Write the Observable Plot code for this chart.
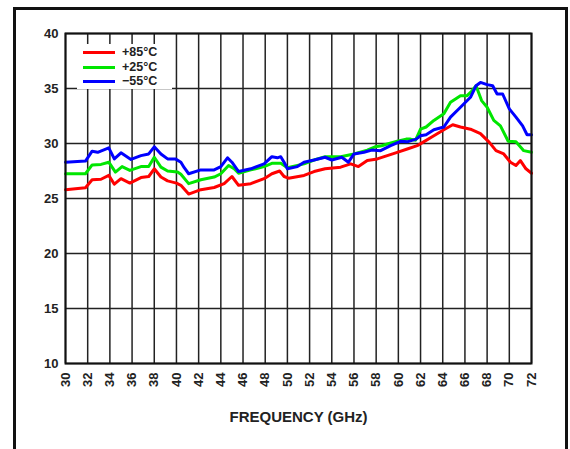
<!DOCTYPE html>
<html><head><meta charset="utf-8">
<script src="https://cdn.jsdelivr.net/npm/d3@7"></script>
<script src="https://cdn.jsdelivr.net/npm/@observablehq/plot@0.6"></script>
<style>
html,body{margin:0;padding:0;background:#fff;}
body{width:570px;height:449px;overflow:hidden;position:relative;font-family:"Liberation Sans",Arial,sans-serif;}
#frame{position:absolute;left:13px;top:7px;width:549px;height:470px;border:3px solid #111;border-bottom:none;box-sizing:content-box;}
#chart{position:absolute;left:0;top:0;}
#legend{position:absolute;left:77px;top:44px;width:95px;height:45px;background:#fff;}
.item{position:absolute;left:0;height:14px;}
.sw{position:absolute;left:6px;width:32px;height:3px;top:6px;}
.lab{position:absolute;left:45px;top:0px;font-weight:bold;font-size:12.5px;line-height:14px;height:14px;color:#222;white-space:nowrap;}
</style></head>
<body>
<div id="frame"></div>
<div id="chart"></div>
<div id="legend"></div>
<script>
// Tick values
const xTicks = [30,32,34,36,38,40,42,44,46,48,50,52,54,56,58,60,62,64,66,68,70,72];
const yTicks = [10,15,20,25,30,35,40];

// Series names and colours
const seriesNames = ["+85°C", "+25°C", "\u221255°C"];
const seriesColors = ["#ff0000", "#00e600", "#0000ff"];

// +85°C
const freq85 = [30.0,31.8,32.4,33.2,33.9,34.4,35.0,35.8,36.8,37.5,38.0,38.6,39.2,40.0,40.4,41.1,42.2,43.4,44.3,45.0,45.6,46.7,47.9,48.6,49.3,49.7,50.1,51.5,52.4,53.4,54.8,55.7,56.4,57.2,58.1,59.0,59.9,60.8,61.7,62.2,63.2,64.1,64.9,65.6,66.5,67.4,68.2,68.8,69.5,70.1,70.6,71.0,71.5,72.0];
const gain85 = [25.8,25.97,26.7,26.75,27.1,26.3,26.8,26.4,26.9,27.0,27.7,26.95,26.6,26.4,26.2,25.4,25.8,26.0,26.35,27.0,26.2,26.35,26.8,27.25,27.5,27.0,26.85,27.1,27.45,27.7,27.85,28.15,27.9,28.45,28.6,28.9,29.2,29.5,29.8,30.1,30.7,31.25,31.7,31.5,31.3,30.9,30.1,29.35,29.05,28.3,28.0,28.45,27.7,27.3];

// +25°C
const freq25 = [30.0,31.8,32.4,33.2,33.9,34.5,35.1,35.8,36.8,37.5,38.0,38.6,39.2,40.1,40.4,41.1,42.2,43.4,44.0,44.7,45.2,45.6,46.7,47.9,48.6,49.4,50.0,51.5,52.4,53.4,54.8,56.0,57.2,57.9,58.5,59.0,59.9,60.7,61.1,61.55,62.0,62.5,63.2,64.1,64.7,65.6,66.2,66.6,67.0,67.5,68.0,68.6,69.2,69.9,70.6,71.3,72.0];
const gain25 = [27.25,27.25,28.05,28.1,28.3,27.4,27.9,27.55,27.9,27.9,28.75,27.85,27.5,27.4,27.2,26.35,26.7,26.95,27.25,28.0,27.7,27.3,27.6,27.9,28.2,28.2,27.8,28.15,28.5,28.8,28.8,29.05,29.4,29.7,29.8,29.95,30.2,30.4,30.4,30.3,31.3,31.5,32.1,32.7,33.75,34.35,34.35,34.75,35.25,33.9,33.3,32.1,31.6,30.2,30.15,29.35,29.2];

// -55°C
const freq55 = [30.0,31.8,32.4,32.9,33.9,34.4,35.0,35.9,36.8,37.5,38.0,38.6,39.2,39.9,40.4,40.7,41.1,42.2,43.4,44.0,44.6,45.0,45.6,46.7,47.9,48.6,49.1,49.4,49.7,50.0,50.9,51.5,52.4,53.4,54.0,54.9,55.5,56.0,56.9,57.6,58.4,59.3,60.2,60.8,61.6,62.0,62.5,63.2,64.1,64.7,65.6,66.5,67.0,67.4,68.0,68.5,68.9,69.4,70.0,70.6,71.2,71.6,72.0];
const gain55 = [28.3,28.4,29.3,29.2,29.6,28.6,29.15,28.55,28.9,29.05,29.7,29.05,28.6,28.6,28.3,27.8,27.25,27.6,27.6,27.9,28.7,28.3,27.45,27.7,28.15,28.8,28.7,28.8,28.3,27.7,27.9,28.3,28.5,28.75,28.5,28.75,28.3,29.05,29.2,29.4,29.35,29.8,30.2,30.15,30.4,30.7,30.8,31.25,31.5,32.4,33.3,34.2,35.25,35.55,35.35,35.25,34.5,34.5,33.15,32.4,31.6,30.8,30.8];

const series = [
  {name: seriesNames[0], f: freq85, g: gain85},
  {name: seriesNames[1], f: freq25, g: gain25},
  {name: seriesNames[2], f: freq55, g: gain55}
];
const rows = series.flatMap(s => s.f.map((f, i) => ({f, g: s.g[i], s: s.name})));

const chart = Plot.plot({
  width: 570, height: 449,
  marginLeft: 65, marginRight: 39, marginTop: 33, marginBottom: 86,
  x: {domain: [30, 72], ticks: xTicks, tickRotate: -90, tickSize: 0, tickPadding: 9, label: null, tickFormat: d => String(d)},
  y: {domain: [10, 40], ticks: yTicks, tickSize: 0, tickPadding: 7, label: null},
  color: {domain: seriesNames, range: seriesColors},
  style: {fontFamily: '"Liberation Sans", Arial, sans-serif', fontSize: "13px", fontWeight: "bold", color: "#222", background: "transparent"},
  marks: [
    Plot.ruleX(xTicks, {stroke: "#222", strokeWidth: 1.5}),
    Plot.ruleY(yTicks, {stroke: "#222", strokeWidth: 1.5}),
    Plot.line(rows, {x: "f", y: "g", z: "s", stroke: "s", strokeWidth: 3, strokeLinejoin: "round", strokeLinecap: "round"}),
    Plot.frame({stroke: "#111", strokeWidth: 2}),
    Plot.text(["FREQUENCY (GHz)"], {frameAnchor: "bottom", dy: 58, fontSize: 15, fontWeight: "bold", fill: "#222"})
  ]
});
document.getElementById("chart").appendChild(chart);

const leg = document.getElementById("legend");
const rowTops = [1, 15.5, 30];
seriesNames.forEach((n, i) => {
  const it = document.createElement("div");
  it.className = "item";
  it.style.top = rowTops[i] + "px";
  const sw = document.createElement("div");
  sw.className = "sw";
  sw.style.background = seriesColors[i];
  const lb = document.createElement("div");
  lb.className = "lab";
  lb.textContent = n;
  it.appendChild(sw); it.appendChild(lb);
  leg.appendChild(it);
});
</script>
</body></html>
